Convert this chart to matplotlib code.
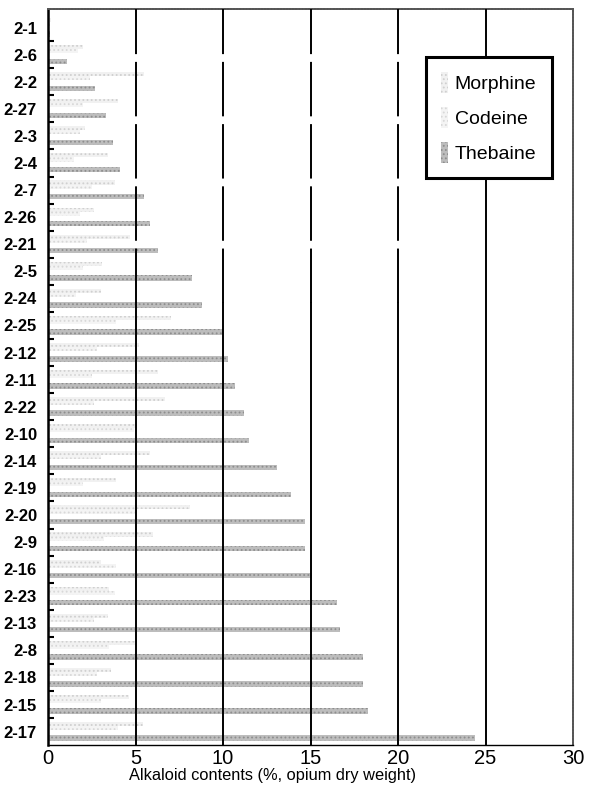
import matplotlib
matplotlib.use("Agg")
import matplotlib.pyplot as plt
import numpy as np

plt.rcParams['font.family'] = ['Liberation Sans', 'DejaVu Sans']
plt.rcParams['hatch.linewidth'] = 0.8

# samples, top to bottom
samples = ['2-1', '2-6', '2-2', '2-27', '2-3', '2-4', '2-7', '2-26', '2-21',
           '2-5', '2-24', '2-25', '2-12', '2-11', '2-22', '2-10', '2-14',
           '2-19', '2-20', '2-9', '2-16', '2-23', '2-13', '2-8', '2-18',
           '2-15', '2-17']

# % of opium dry weight
morphine = [0.15, 2.0, 5.5, 4.0, 2.1, 3.4, 3.8, 2.6, 4.7, 3.1, 3.0, 7.0, 5.2,
            6.3, 6.7, 5.0, 5.8, 3.9, 8.1, 6.0, 3.0, 3.5, 3.4, 5.1, 3.6, 4.6, 5.4]
codeine = [0.1, 1.7, 2.4, 2.0, 1.8, 1.5, 2.5, 1.8, 2.2, 2.0, 1.6, 3.9, 2.8,
           2.5, 2.6, 4.9, 3.0, 2.0, 5.1, 3.2, 3.9, 3.8, 2.6, 3.5, 2.8, 3.0, 4.0]
thebaine = [0.1, 1.1, 2.7, 3.3, 3.7, 4.1, 5.5, 5.8, 6.3, 8.2, 8.8, 10.0, 10.3,
            10.7, 11.2, 11.5, 13.1, 13.9, 14.7, 14.7, 15.1, 16.5, 16.7, 18.0,
            18.0, 18.3, 24.4]

y = np.arange(len(samples))

fig = plt.figure(figsize=(5.95, 7.91), dpi=100)
ax = fig.add_axes([0.081, 0.058, 0.882, 0.931])

# stippled fills: light dots for the two faint series, denser grey for thebaine
ax.barh(y - 0.28, morphine, height=0.15, color='#f1f1f1', edgecolor='#d0d0d0',
        hatch='....', linewidth=0, label='Morphine', zorder=2)
ax.barh(y - 0.13, codeine, height=0.15, color='#f4f4f4', edgecolor='#d8d8d8',
        hatch='....', linewidth=0, label='Codeine', zorder=2)
ax.barh(y + 0.24, thebaine, height=0.2, color='#bdbdbd', edgecolor='#8e8e8e',
        hatch='....', linewidth=0, label='Thebaine', zorder=2)

# vertical grid, broken near the top like the printed figure
for xv in [5, 10, 15, 20]:
    ax.axvline(xv, ymin=0.0, ymax=0.6, color='black', lw=1.4, zorder=3)
    ax.axvline(xv, ymin=0.6, ymax=1.0, color='black', lw=1.4, zorder=3,
               dashes=(28, 4))
ax.axvline(25, color='black', lw=1.4, zorder=3)

ax.set_xlim(0, 30)
ax.set_ylim(26.5, -0.7)
ax.set_xticks(np.arange(0, 31, 5))
ax.tick_params(axis='x', direction='in', length=0, labelsize=14.5, pad=3)

ax.set_yticks(y)
ax.set_yticklabels(samples, fontsize=12, fontweight='bold')
ax.set_yticks(y[:-1] + 0.5, minor=True)
ax.tick_params(axis='y', which='major', length=0, pad=8)
ax.tick_params(axis='y', which='minor', direction='in', length=4, width=1.5,
               color='black')

ax.set_xlabel('Alkaloid contents (%, opium dry weight)', fontsize=11.8,
              labelpad=0, x=0.427)

ax.spines['left'].set_linewidth(1.8)
ax.spines['bottom'].set_linewidth(1.0)
for side in ['top', 'right']:
    ax.spines[side].set_color('#555555')
    ax.spines[side].set_linewidth(1.4)
    ax.spines[side].set_linestyle((0, (1, 0.6)))

leg = ax.legend(loc='upper right', bbox_to_anchor=(0.96, 0.935),
                handlelength=0.35, handleheight=1.3,
                handletextpad=0.35, labelspacing=0.7, borderpad=0.8,
                borderaxespad=0, fancybox=False, framealpha=1,
                edgecolor='black', prop={'size': 14})
leg.get_frame().set_linewidth(2.2)
leg.set_zorder(5)

fig.savefig('out.png', dpi=100, facecolor='white')
